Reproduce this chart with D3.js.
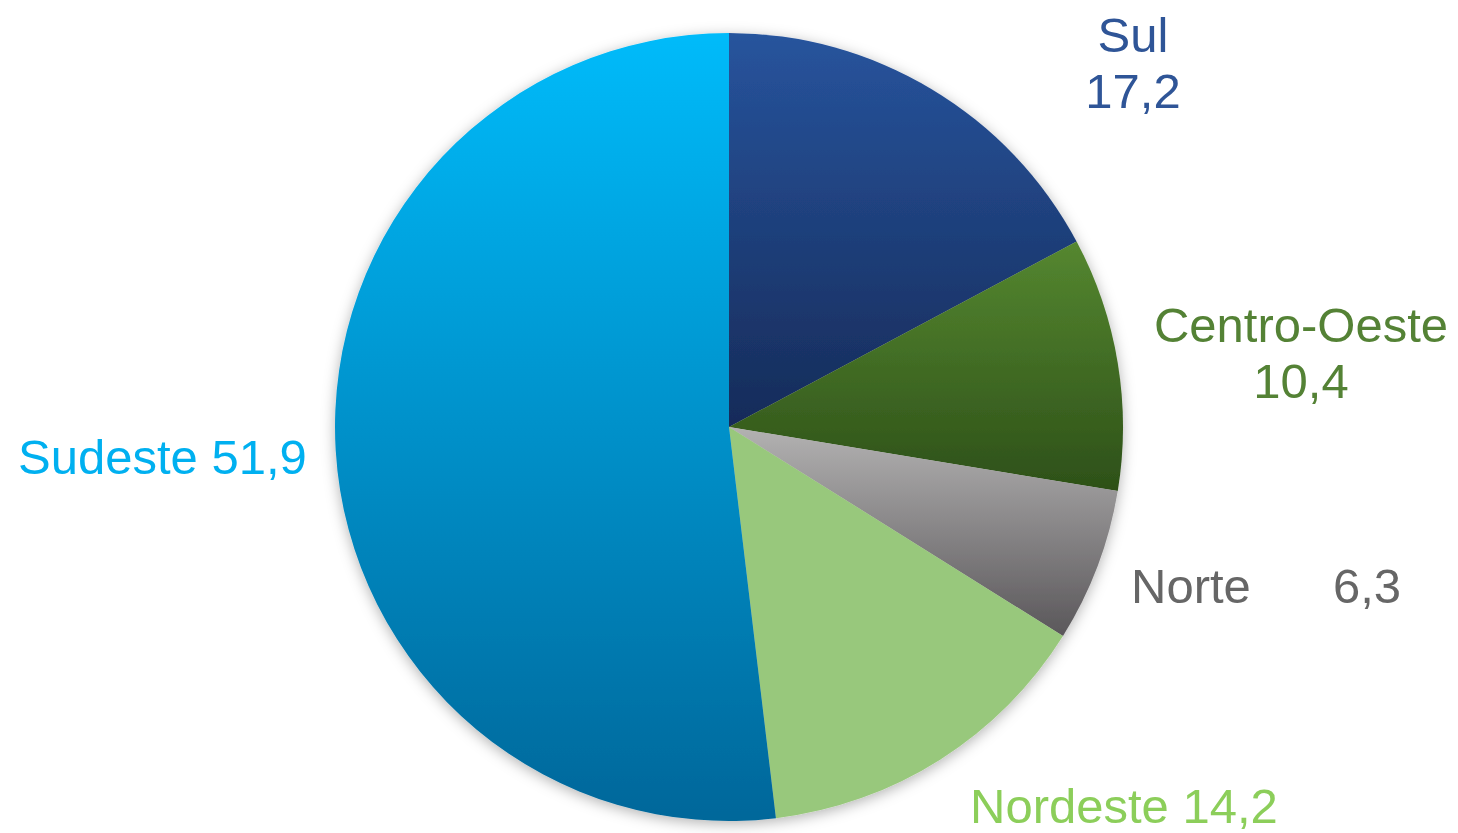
<!DOCTYPE html>
<html>
<head>
<meta charset="utf-8">
<script src="https://cdn.jsdelivr.net/npm/d3@7"></script>
<style>
    html, body { margin: 0; padding: 0; background: #fff; }
    svg { display: block; }
    text { font-family: "Liberation Sans", Arial, sans-serif; }
</style>
</head>
<body>
<div id="chart"></div>
<script>
// Data (share of total, %)
const regions = ['Sul', 'Centro-Oeste', 'Norte', 'Nordeste', 'Sudeste'];
const shares = [17.2, 10.4, 6.3, 14.2, 51.9];
const shareLabels = ['17,2', '10,4', '6,3', '14,2', '51,9'];

// Slice gradients (top -> bottom) and label colours
const sliceTop = ['#27549d', '#558730', '#b3b2b2', '#98c87b', '#00bbfa'];
const sliceBottom = ['#162b59', '#2d5018', '#5a575a', '#98c87b', '#00679a'];
const labelColors = ['#2f5597', '#548235', '#666666', '#8cce5a', '#00b0f0'];

const width = 1458;
const height = 833;
const cx = 729, cy = 427, radius = 394;
const fontSize = 49;

const svg = d3.select('#chart')
    .append('svg')
    .attr('width', width)
    .attr('height', height);

const defs = svg.append('defs');

// Soft shadow around the pie
const shadow = defs.append('filter')
    .attr('id', 'pie-shadow')
    .attr('x', '-10%').attr('y', '-10%')
    .attr('width', '120%').attr('height', '120%');
shadow.append('feDropShadow')
    .attr('dx', 0).attr('dy', 3)
    .attr('stdDeviation', 7)
    .attr('flood-color', '#000')
    .attr('flood-opacity', 0.3);

regions.forEach((r, i) => {
    const g = defs.append('linearGradient')
        .attr('id', `grad-${i}`)
        .attr('x1', 0).attr('y1', 0)
        .attr('x2', 0).attr('y2', 1);
    g.append('stop').attr('offset', '0%').attr('stop-color', sliceTop[i]);
    g.append('stop').attr('offset', '100%').attr('stop-color', sliceBottom[i]);
});

const data = regions.map((name, i) => ({ name, value: shares[i], label: shareLabels[i], i }));

const pie = d3.pie()
    .sort(null)
    .value(d => d.value);

const arc = d3.arc()
    .innerRadius(0)
    .outerRadius(radius);

const pieG = svg.append('g')
    .attr('transform', `translate(${cx},${cy})`)
    .attr('filter', 'url(#pie-shadow)');

pieG.selectAll('path')
    .data(pie(data))
    .enter()
    .append('path')
    .attr('d', arc)
    .attr('fill', d => `url(#grad-${d.data.i})`);

// Label placement (hand-placed like the original, in page pixels)
const labelLayout = {
    'Sul':          { x: 1133, y: 52,  anchor: 'middle', lines: true },
    'Centro-Oeste': { x: 1301, y: 342, anchor: 'middle', lines: true },
    'Norte':        { x: 1131, y: 603, anchor: 'start', gapX: 1333 },
    'Nordeste':     { x: 970,  y: 823, anchor: 'start' },
    'Sudeste':      { x: 18,   y: 474, anchor: 'start' }
};

const labels = svg.append('g')
    .attr('font-size', fontSize + 'px');

data.forEach(d => {
    const L = labelLayout[d.name];
    const t = labels.append('text')
        .attr('fill', labelColors[d.i])
        .attr('text-anchor', L.anchor)
        .attr('x', L.x)
        .attr('y', L.y);
    if (L.lines) {
        t.append('tspan').attr('x', L.x).text(d.name);
        t.append('tspan').attr('x', L.x).attr('dy', 56).text(d.label);
    } else if (L.gapX) {
        t.append('tspan').text(d.name);
        t.append('tspan').attr('x', L.gapX).text(d.label);
    } else {
        t.text(`${d.name} ${d.label}`);
    }
});
</script>
</body>
</html>
